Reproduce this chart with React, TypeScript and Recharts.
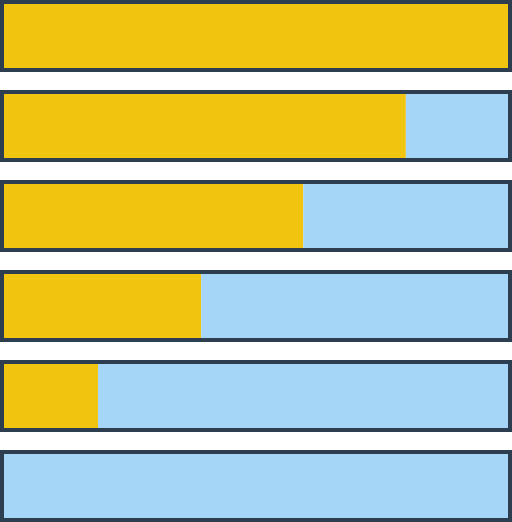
import { BarChart, Bar, XAxis, YAxis } from "recharts";

// rows top to bottom
const rows = ["r1", "r2", "r3", "r4", "r5", "r6"];
const filled = [100, 79.5, 59.3, 39.2, 18.9, 0];
const empty = [0, 20.5, 40.7, 60.8, 81.1, 100];

const data = rows.map((r, i) => ({ row: r, filled: filled[i], empty: empty[i], total: filled[i] + empty[i] }));

const chartProps = {
    width: 512,
    height: 540,
    data,
    layout: "vertical" as const,
    margin: { top: 0, right: 2, bottom: 0, left: 2 },
    barCategoryGap: 11,
};

export default function App() {
    return (
        // fixed wrapper so the taller chart does not add scrollbars
        <div style={{ position: "fixed", left: 0, top: 0, width: 512, height: 522, overflow: "hidden", background: "#fff" }}>
            <div style={{ position: "absolute", left: 0, top: -9 }}>
                <BarChart {...chartProps}>
                    <XAxis type="number" domain={[0, 100]} hide />
                    <YAxis type="category" dataKey="row" hide />
                    <Bar dataKey="filled" stackId="a" fill="#f1c40f" isAnimationActive={false} />
                    <Bar dataKey="empty" stackId="a" fill="#a5d6f7" isAnimationActive={false} />
                </BarChart>
            </div>
            {/* outline layer on top */}
            <div style={{ position: "absolute", left: 0, top: -9 }}>
                <BarChart {...chartProps}>
                    <XAxis type="number" domain={[0, 100]} hide />
                    <YAxis type="category" dataKey="row" hide />
                    <Bar dataKey="total" fill="none" stroke="#2c3e50" strokeWidth={4} isAnimationActive={false} />
                </BarChart>
            </div>
        </div>
    );
}
